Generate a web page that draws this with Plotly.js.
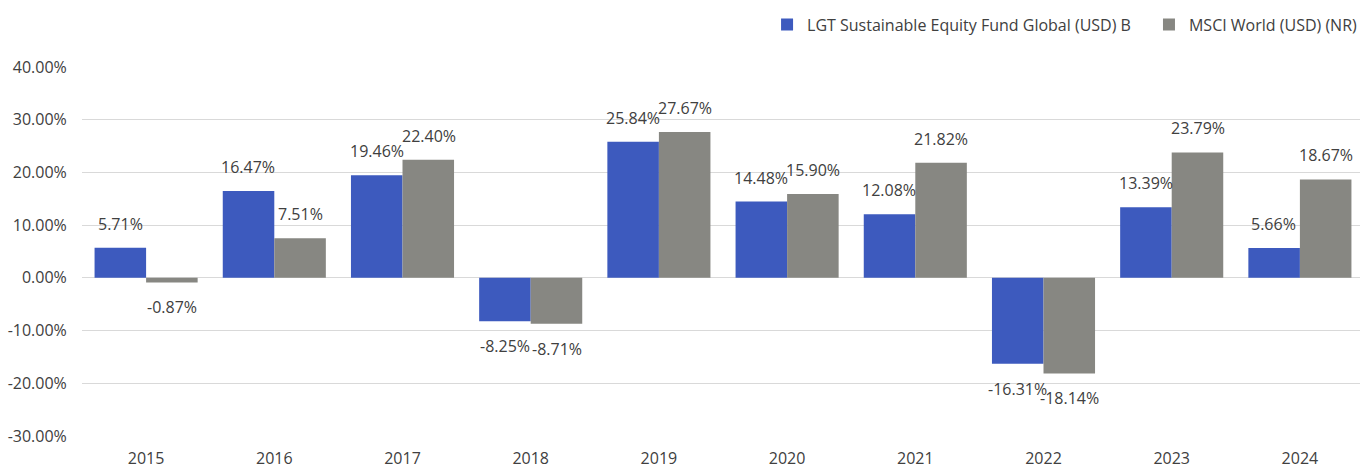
<!DOCTYPE html>
<html>
<head>
<meta charset="utf-8">
<script src="https://cdn.plot.ly/plotly-3.0.1.min.js"></script>
<style>html,body{margin:0;padding:0;overflow:hidden;background:#fff}</style>
</head>
<body>
<div id="chart"></div>
<script>
const years = ["2015","2016","2017","2018","2019","2020","2021","2022","2023","2024"];
const fundName = "LGT Sustainable Equity Fund Global (USD) B";
const indexName = "MSCI World (USD) (NR)";
const fundValues = [5.71, 16.47, 19.46, -8.25, 25.84, 14.48, 12.08, -16.31, 13.39, 5.66];
const indexValues = [-0.87, 7.51, 22.40, -8.71, 27.67, 15.90, 21.82, -18.14, 23.79, 18.67];
const yTickValues = [-30, -20, -10, 0, 10, 20, 30, 40];

const FONT = "Open Sans, sans-serif";
const TXT = "#404040";
const BLUE = "#3D5ABE";
const GREY = "#878782";

function fmt(v){ return v.toFixed(2) + "%"; }

const traces = [
  {type:"bar", name:fundName, x:years, y:fundValues, marker:{color:BLUE}, legend:"legend"},
  {type:"bar", name:indexName, x:years, y:indexValues, marker:{color:GREY}, legend:"legend2"}
];

const annotations = [];
function addLabels(vals, dx){
  vals.forEach((v,i)=>{
    annotations.push({
      x: i, y: v, xref:"x", yref:"y",
      text: fmt(v), showarrow:false,
      xshift: dx, yshift: v >= 0 ? 24 : -25,
      xanchor:"center", yanchor:"middle",
      font:{family:FONT, size:16, color:TXT}
    });
  });
}
addLabels(fundValues, -26);
addLabels(indexValues, 26);

const legendFont = {family:FONT, size:16, color:TXT};

const layout = {
  width: 1364, height: 468,
  margin:{l:82, r:0, t:67, b:32, pad:0},
  paper_bgcolor:"#fff", plot_bgcolor:"#fff",
  font:{family:FONT, size:16, color:TXT},
  barmode:"group", bargap:0.196, bargroupgap:0,
  showlegend:true,
  legend:{orientation:"h", x:0.8222, xanchor:"right", y:1.115, yanchor:"middle",
          font:legendFont, bgcolor:"rgba(0,0,0,0)"},
  legend2:{orientation:"h", x:0.9992, xanchor:"right", y:1.115, yanchor:"middle",
          font:legendFont, bgcolor:"rgba(0,0,0,0)"},
  xaxis:{type:"category", categoryarray:years, showgrid:false, zeroline:false, showline:false,
         ticks:"outside", ticklen:8, tickcolor:"rgba(0,0,0,0)",
         tickfont:{family:FONT, size:16, color:TXT}},
  yaxis:{range:[-30,40], tickvals:yTickValues, ticktext:yTickValues.map(v=>v.toFixed(2)+"%"),
         showgrid:true, gridcolor:"#D9D9D9", gridwidth:1, zeroline:true, zerolinecolor:"#D9D9D9", zerolinewidth:1,
         showline:false, ticks:"outside", ticklen:11, tickcolor:"rgba(0,0,0,0)",
         tickfont:{family:FONT, size:16, color:TXT}},
  annotations: annotations
};

Plotly.newPlot("chart", traces, layout, {displayModeBar:false, staticPlot:true});
</script>
</body>
</html>
